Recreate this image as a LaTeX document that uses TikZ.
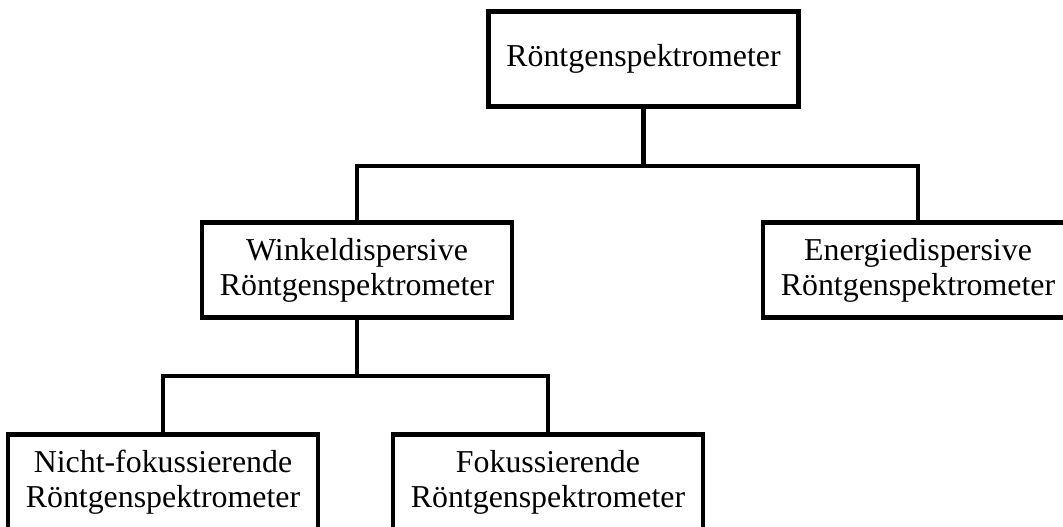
\documentclass[tikz,border=0pt]{standalone}
\usepackage{fontspec}
\setmainfont{Liberation Serif}
\tikzset{
    spekbox/.style={draw, fill=white, minimum width=232.5pt, minimum height=71pt,
        align=center, inner sep=0pt, font=\fontsize{23.9}{26.25}\selectfont}
}
\begin{document}
\begin{tikzpicture}[line join=miter, line width=3.4pt, x=0.75pt, y=-0.75pt]
                \useasboundingbox (0, 0) rectangle (1063, 526);
                \clip (0, 0) rectangle (1063, 526);
                \node[spekbox] (top) at (643.5, 59) {Röntgenspektrometer};
                \node[spekbox] (winkel) at (357, 270) {Winkeldispersive\\Röntgenspektrometer};
                \node[spekbox] (energie) at (918, 270) {Energiedispersive\\Röntgenspektrometer};
                \node[spekbox] (nicht) at (163, 482) {Nicht-fokussierende\\Röntgenspektrometer};
                \node[spekbox] (fokus) at (548, 482) {Fokussierende\\Röntgenspektrometer};
                \coordinate (busa) at (643.5, 166);
                \coordinate (busb) at (357, 376);
                \draw (top.south) -- (busa);
                \draw (winkel.north) |- (busa) -| (energie.north);
                \draw (winkel.south) -- (busb);
                \draw (nicht.north) |- (busb) -| (fokus.north);
            \end{tikzpicture}
\end{document}
